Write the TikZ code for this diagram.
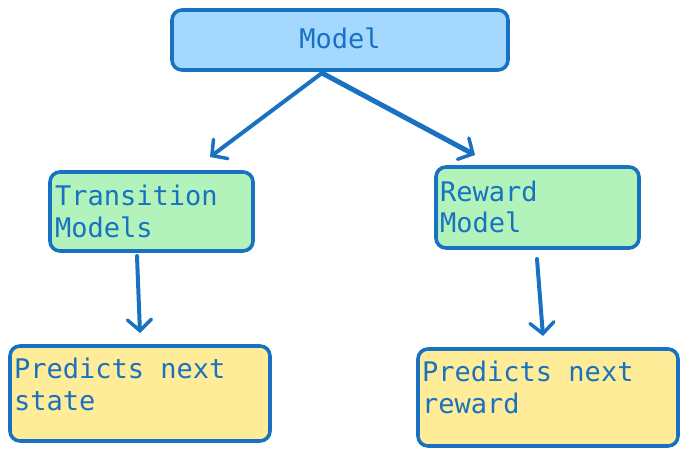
\documentclass[tikz,border=0pt]{standalone}
\usepackage{fontspec}
\setmonofont{DejaVu Sans Mono}
\usetikzlibrary{arrows.meta}
\definecolor{strokeblue}{HTML}{1971C2}
\definecolor{fillblue}{HTML}{A5D8FF}
\definecolor{fillgreen}{HTML}{B2F2BB}
\definecolor{fillyellow}{HTML}{FFEC99}
\tikzset{
  box/.style={draw=strokeblue, line width=3.6pt, rounded corners=10pt, inner sep=0pt},
  lbl/.style={anchor=base west, inner sep=0pt, text=strokeblue, font=\ttfamily\fontsize{27}{32}\selectfont},
  conn/.style={draw=strokeblue, line width=4pt, line cap=round, line join=round,
    -{Straight Barb[length=11pt, width=24pt, line width=3.5pt, line cap=round]}},
}
\begin{document}
\begin{tikzpicture}[x=1pt,y=-1pt]
\useasboundingbox (0,0) rectangle (687,456);
% boxes
\node[box, fill=fillblue, minimum width=336pt, minimum height=60pt] (model) at (340,40) {};
\node[box, fill=fillgreen, minimum width=203pt, minimum height=79pt] (trans) at (151.5,211.5) {};
\node[box, fill=fillgreen, minimum width=203pt, minimum height=81pt] (rew) at (537.5,207.5) {};
\node[box, fill=fillyellow, minimum width=260pt, minimum height=95pt] (pstate) at (140,393.5) {};
\node[box, fill=fillyellow, minimum width=260pt, minimum height=97pt] (prew) at (548,397.5) {};
% texts
\node[lbl, anchor=base] (tmodel) at (340,48) {Model};
\node[lbl] (ttrans1) at (55,205) {Transition};
\node[lbl] (ttrans2) at (55,237) {Models};
\node[lbl] (trew1) at (440,201) {Reward};
\node[lbl] (trew2) at (440,232) {Model};
\node[lbl] (tps1) at (14,378) {Predicts next};
\node[lbl] (tps2) at (14,410) {state};
\node[lbl] (tpr1) at (422,381) {Predicts next};
\node[lbl] (tpr2) at (422,413) {reward};
% connector ends
\coordinate (a0) at (322,73);
\coordinate (a1) at (210,157);
\coordinate (b1) at (475,155);
\coordinate (c0) at (137,256);
\coordinate (c1) at (140,333);
\coordinate (d0) at (537,259);
\coordinate (d1) at (543,336);
\draw[conn] (a0) -- (a1);
\draw[conn, line width=5pt] (a0) -- (b1);
\draw[conn] (c0) -- (c1);
\draw[conn] (d0) -- (d1);
\end{tikzpicture}
\end{document}
